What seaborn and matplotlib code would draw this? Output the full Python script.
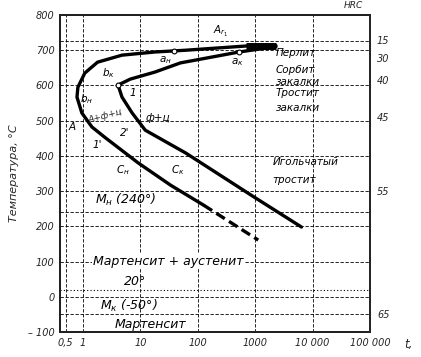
import numpy as np
import pandas as pd
import matplotlib
matplotlib.use("Agg")
import matplotlib.pyplot as plt
import seaborn as sns

# --- dane ---
# krzywa poczatku przemiany (t, s ; T, C)
start_t = [2300, 700, 62, 18, 4.8, 1.8, 1.08, 0.82, 0.79, 0.96, 1.44, 2.4, 9.2, 33.6, 127]
start_T = [713, 712, 700, 695, 686, 666, 635, 595, 567, 522, 482, 453, 380, 317, 260]
start_dash_t = [127, 1130]
start_dash_T = [260, 161]
# krzywa konca przemiany
finish_t = [2300, 525, 50, 18, 6.7, 4.1, 4.8, 7.2, 12.2, 62, 960, 6400]
finish_T = [710, 695, 664, 638, 618, 601, 567, 522, 473, 408, 283, 198]
# punkty charakterystyczne (aн, aк, bк)
pts_t = [38, 520, 4.1]
pts_T = [698, 695, 601]

x_ticks = [0.5, 1, 10, 100, 1000, 10000, 100000]
x_labels = ["0,5", "1", "10", "100", "1000", "10 000", "100 000"]
y_ticks = [800, 700, 600, 500, 400, 300, 200, 100, 0, -100]
y_labels = ["800", "700", "600", "500", "400", "300", "200", "100", "0", "– 100"]
hrc_pos = [728, 677, 615, 510, 300, -50]
hrc_labels = ["15", "30", "40", "45", "55", "65"]
extra_lines = [727, 240, -50]   # Ar1, Mн, Mк
dotted_line = 20

sns.set_theme(style="white")
plt.rcParams['font.family'] = ['DejaVu Sans']

fig = plt.figure(figsize=(4.21, 3.57), dpi=100)
ax = fig.add_axes([0.1425, 0.070, 0.7365, 0.888])

df_s = pd.DataFrame({"t": start_t, "T": start_T})
df_sd = pd.DataFrame({"t": start_dash_t, "T": start_dash_T})
df_f = pd.DataFrame({"t": finish_t, "T": finish_T})

sns.lineplot(data=df_s, x="t", y="T", sort=False, estimator=None, color="black", lw=2.4, ax=ax)
sns.lineplot(data=df_sd, x="t", y="T", sort=False, estimator=None, color="black", lw=2.4,
             ax=ax, linestyle=(0, (3, 1.5)))
sns.lineplot(data=df_f, x="t", y="T", sort=False, estimator=None, color="black", lw=2.4, ax=ax)
# pogrubienie przy Ar1
ax.plot(start_t[:2], [712, 712], color="black", lw=5, solid_capstyle="butt")
sns.scatterplot(x=pts_t, y=pts_T, ax=ax, s=12, color="white", edgecolor="black", linewidth=0.8, zorder=5)

ax.set_xscale("log")
ax.set_xlim(0.4, 100000)
ax.set_ylim(-100, 800)
ax.set_xticks(x_ticks)
ax.set_xticklabels(x_labels)
ax.minorticks_off()
ax.set_yticks(y_ticks)
ax.set_yticklabels(y_labels)
ax.tick_params(length=0, labelsize=7, pad=4)
for lab in ax.get_xticklabels() + ax.get_yticklabels():
    lab.set_style("italic")
ax.set_xlabel("")
ax.set_ylabel("Температура, °С", fontsize=8, style="italic", labelpad=6)

ax.grid(True, color="black", ls=(0, (4, 2)), lw=0.6)
for v in extra_lines:
    ax.axhline(v, color="black", ls=(0, (4, 2)), lw=0.6)
ax.axhline(dotted_line, color="black", ls=(0, (1, 2)), lw=0.8)
for sp in ax.spines.values():
    sp.set_color("black")
    sp.set_linewidth(1.4)

ax2 = ax.twinx()
ax2.set_ylim(-100, 800)
ax2.set_yticks(hrc_pos)
ax2.set_yticklabels(hrc_labels, style="italic")
ax2.tick_params(length=0, labelsize=7, pad=5)
ax2.grid(False)
ax2.spines["right"].set_linewidth(1.4)
ax.text(0.945, 1.03, "HRC", transform=ax.transAxes, fontsize=6.5, style="italic", ha="center", va="center")
fig.text(0.97, 0.035, "t,", fontsize=8.5, style="italic", ha="center", va="center")

kw = dict(fontsize=7.5, style="italic", color="black")
big = dict(fontsize=9, style="italic", color="black")
ax.text(247, 752, "A$_{r_1}$", ha="center", va="center", **kw)
ax.text(27, 672, "a$_н$", ha="center", va="center", **kw)
ax.text(490, 667, "a$_к$", ha="center", va="center", **kw)
ax.text(2.75, 635, "b$_к$", ha="center", va="center", **kw)
ax.text(1.15, 562, "b$_н$", ha="center", va="center", **kw)
ax.text(2.5, 512, "А+ф+ц", ha="center", va="center", rotation=15, fontsize=6.5, style="italic")
ax.text(0.65, 482, "A", ha="center", va="center", **kw)
ax.text(20, 507, "ф+ц", ha="center", va="center", **kw)
ax.text(7.5, 578, "1", ha="center", va="center", **kw)
ax.text(1.77, 431, "1'", ha="center", va="center", **kw)
ax.text(5.4, 465, "2'", ha="center", va="center", **kw)
ax.text(5, 360, "C$_н$", ha="center", va="center", **kw)
ax.text(45, 360, "C$_к$", ha="center", va="center", **kw)
for txt, yy in zip(["Перлит", "Сорбит", "закалки", "Тростит", "закалки"],
                   [692, 644, 610, 578, 536]):
    ax.text(2300, yy, txt, ha="left", va="center", **kw)
ax.text(2000, 382, "Игольчатый", ha="left", va="center", **kw)
ax.text(2000, 331, "тростит", ha="left", va="center", **kw)
ax.text(1.63, 275, "M$_н$ (240°)", ha="left", va="center", **big)
ax.text(1.5, 100, "Мартенсит + аустенит", ha="left", va="center",
        bbox=dict(facecolor="white", edgecolor="none", pad=0.5), **big)
ax.text(8.1, 42, "20°", ha="center", va="center", **big)
ax.text(2.0, -25, "M$_к$ (-50°)", ha="left", va="center", **big)
ax.text(3.6, -78, "Мартенсит", ha="left", va="center", **big)

fig.savefig("out.png", dpi=100)
